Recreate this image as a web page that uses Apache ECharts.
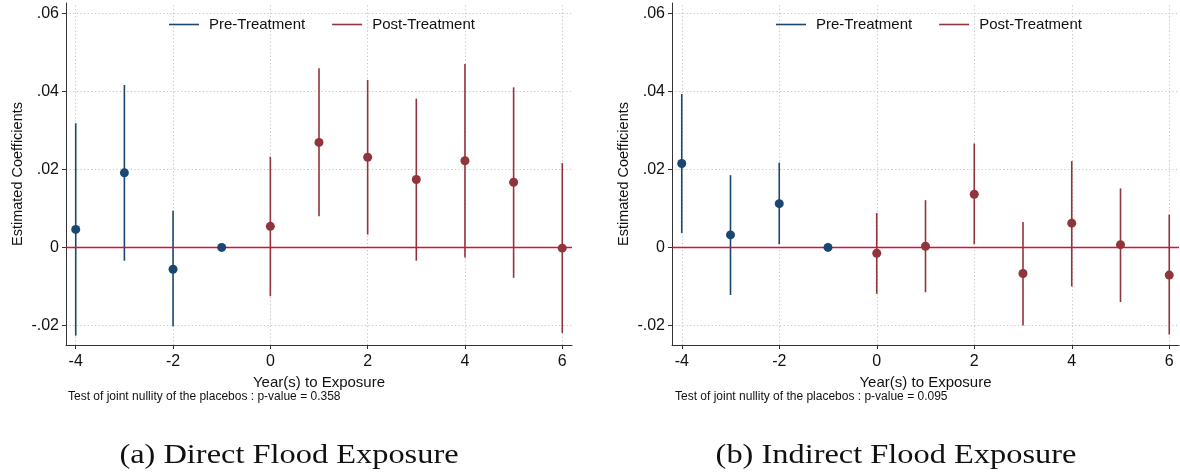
<!DOCTYPE html>
<html>
<head>
<meta charset="utf-8">
<script src="https://cdn.jsdelivr.net/npm/echarts@6/dist/echarts.min.js"></script>
<style>
  html, body { margin: 0; padding: 0; background: #fff; }
  #chart { width: 1180px; height: 475px; }
</style>
</head>
<body>
<div id="chart"></div>
<script>
// Event-study estimates: years relative to exposure, point estimates and 95% CI bounds
const years = [-4, -3, -2, -1, 0, 1, 2, 3, 4, 5, 6];
const xTicks = [-4, -2, 0, 2, 4, 6];
const yTicks = [-0.02, 0, 0.02, 0.04, 0.06];
const yTickLabels = ['-.02', '0', '.02', '.04', '.06'];

// (a) direct flood exposure
const directCoef = [0.0046, 0.0191, -0.0056, 0, 0.0054, 0.0269, 0.0231, 0.0174, 0.0222, 0.0167, -0.0002];
const directLow  = [-0.0226, -0.0034, -0.0202, 0, -0.0125, 0.0080, 0.0033, -0.0034, -0.0026, -0.0078, -0.0219];
const directHigh = [0.0318, 0.0416, 0.0094, 0, 0.0232, 0.0459, 0.0429, 0.0381, 0.0470, 0.0410, 0.0216];

// (b) indirect flood exposure
const indirectCoef = [0.0215, 0.0032, 0.0112, 0, -0.0015, 0.0003, 0.0136, -0.0067, 0.0062, 0.0007, -0.0071];
const indirectLow  = [0.0037, -0.0122, 0.0008, 0, -0.0119, -0.0115, 0.0008, -0.0200, -0.0100, -0.0140, -0.0223];
const indirectHigh = [0.0393, 0.0185, 0.0217, 0, 0.0088, 0.0121, 0.0266, 0.0065, 0.0221, 0.0151, 0.0084];

const pValues = ['0.358', '0.095'];
const captions = ['(a) Direct Flood Exposure', '(b) Indirect Flood Exposure'];
const seriesNames = ['Pre-Treatment', 'Post-Treatment'];

const PRE = '#1a476f';
const POST = '#90353b';
const ZERO = '#d60f3c';
const GRIDC = '#c4c4c4';
const SANS = '"Liberation Sans", Arial, sans-serif';

const panels = [
  { coef: directCoef, low: directLow, high: directHigh, left: 66, right: 1180 - 572 },
  { coef: indirectCoef, low: indirectLow, high: indirectHigh, left: 672, right: 1 }
];

function ciRender(params, api) {
  const x = api.value(0);
  const a = api.coord([x, api.value(1)]);
  const b = api.coord([x, api.value(2)]);
  return {
    type: 'line',
    shape: { x1: a[0], y1: a[1], x2: b[0], y2: b[1] },
    style: { stroke: api.visual('color'), lineWidth: 1.6 }
  };
}

const grid = [], xAxis = [], yAxis = [], series = [];

panels.forEach((p, i) => {
  grid.push({ left: p.left, right: p.right, top: 3, bottom: 130 });
  xAxis.push({
    type: 'value', gridIndex: i, min: -4.2, max: 6.2,
    name: 'Year(s) to Exposure', nameLocation: 'middle', nameGap: 26,
    nameTextStyle: { fontFamily: SANS, fontSize: 15, color: '#111' },
    axisLine: { show: true, onZero: false, lineStyle: { color: '#333', width: 1 } },
    axisTick: { show: true, length: 4, customValues: xTicks, lineStyle: { color: '#333' } },
    axisLabel: { customValues: xTicks, margin: 9, fontFamily: SANS, fontSize: 16, color: '#111' },
    splitLine: { show: false }
  });
  yAxis.push({
    type: 'value', gridIndex: i, min: -0.025, max: 0.0626,
    name: 'Estimated Coefficients', nameLocation: 'middle', nameGap: 41, nameRotate: 90,
    nameTextStyle: { fontFamily: SANS, fontSize: 14.5, color: '#111' },
    axisLine: { show: true, onZero: false, lineStyle: { color: '#333', width: 1 } },
    axisTick: { show: true, length: 4, customValues: yTicks, lineStyle: { color: '#333' } },
    axisLabel: {
      customValues: yTicks, margin: 7, fontFamily: SANS, fontSize: 16, color: '#111',
      formatter: v => {
        const k = yTicks.findIndex(t => Math.abs(t - v) < 1e-9);
        return k >= 0 ? yTickLabels[k] : '';
      }
    },
    splitLine: { show: false }
  });

  // dotted reference grid at the tick values, kept beneath every mark
  series.push({
    type: 'line', xAxisIndex: i, yAxisIndex: i, data: [], z: 0, silent: true,
    markLine: {
      z: 0, silent: true, symbol: 'none', animation: false, label: { show: false },
      lineStyle: { type: [1.2, 2.4], color: GRIDC, width: 1 },
      data: xTicks.map(v => ({ xAxis: v })).concat(yTicks.filter(v => v !== 0).map(v => ({ yAxis: v })))
    }
  });

  const pre = [], post = [], preCi = [], postCi = [];
  years.forEach((yr, k) => {
    const pt = [yr, p.coef[k]];
    const ci = [yr, p.low[k], p.high[k]];
    if (yr < 0) { pre.push(pt); preCi.push(ci); } else { post.push(pt); postCi.push(ci); }
  });

  [[preCi, PRE, seriesNames[0]], [postCi, POST, seriesNames[1]]].forEach(([d, c, n]) => {
    series.push({
      type: 'custom', name: n, xAxisIndex: i, yAxisIndex: i, z: 2,
      itemStyle: { color: c }, renderItem: ciRender,
      encode: { x: 0, y: [1, 2] }, data: d, animation: false
    });
  });

  // horizontal line at zero, above the intervals, below the points
  series.push({
    type: 'line', xAxisIndex: i, yAxisIndex: i, data: [], z: 3, silent: true,
    markLine: {
      z: 3, silent: true, symbol: 'none', animation: false, label: { show: false },
      lineStyle: { type: 'solid', color: ZERO, width: 1.3 },
      data: [{ yAxis: 0 }]
    }
  });

  [[pre, PRE, seriesNames[0]], [post, POST, seriesNames[1]]].forEach(([d, c, n]) => {
    series.push({
      type: 'scatter', name: n, xAxisIndex: i, yAxisIndex: i, z: 4,
      symbol: 'circle', symbolSize: 9, itemStyle: { color: c, opacity: 1 },
      data: d, animation: false
    });
  });
});

const legendBase = {
  orient: 'horizontal', top: 12, icon: 'rect', itemWidth: 30, itemHeight: 1.6, itemGap: 27,
  data: seriesNames, selectedMode: false,
  textStyle: { fontFamily: SANS, fontSize: 15, color: '#111', padding: [0, 0, 0, 5] }
};

const captionFont = '27px "Liberation Serif", serif';

const chart = echarts.init(document.getElementById('chart'), null, { renderer: 'canvas' });
chart.setOption({
  backgroundColor: '#fff',
  animation: false,
  grid, xAxis, yAxis, series,
  legend: [
    Object.assign({}, legendBase, { left: 164 }),
    Object.assign({}, legendBase, { left: 771 })
  ],
  graphic: [
    { type: 'text', left: 68, top: 391, style: { text: 'Test of joint nullity of the placebos : p-value = ' + pValues[0], font: '12px ' + SANS, fill: '#111' } },
    { type: 'text', left: 675, top: 391, style: { text: 'Test of joint nullity of the placebos : p-value = ' + pValues[1], font: '12px ' + SANS, fill: '#111' } },
    { type: 'text', x: 289, y: 456, scaleX: 1.2, style: { text: captions[0], font: captionFont, fill: '#111', align: 'center', verticalAlign: 'middle' } },
    { type: 'text', x: 896, y: 456, scaleX: 1.2, style: { text: captions[1], font: captionFont, fill: '#111', align: 'center', verticalAlign: 'middle' } }
  ]
});
</script>
</body>
</html>
